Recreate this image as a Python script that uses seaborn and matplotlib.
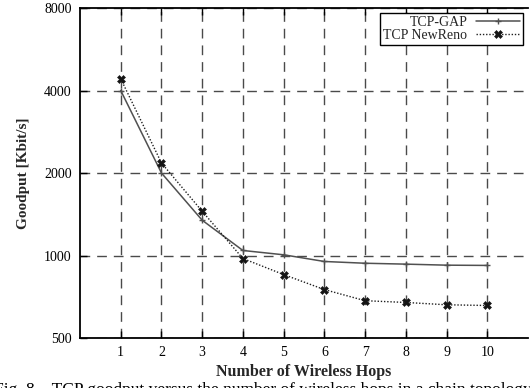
import matplotlib
matplotlib.use("Agg")
import matplotlib.pyplot as plt
import seaborn as sns
import pandas as pd
from matplotlib.ticker import FixedLocator, NullLocator, FixedFormatter

# Goodput (Kbit/s) versus number of wireless hops
hops = [1, 2, 3, 4, 5, 6, 7, 8, 9, 10]
tcp_gap = [4000, 2000, 1345, 1043, 1006, 951, 937, 930, 922, 920]
tcp_newreno = [4413, 2176, 1450, 975, 852, 751, 684, 674, 661, 657]

y_ticks = [500, 1000, 2000, 4000, 8000]
x_ticks = hops

sns.set_theme(style="white")
plt.rcParams["font.family"] = ["Liberation Serif", "DejaVu Serif"]

df = pd.DataFrame({
    "hops": hops * 2,
    "goodput": tcp_gap + tcp_newreno,
    "protocol": ["TCP-GAP"] * len(hops) + ["TCP NewReno"] * len(hops),
})

fig = plt.figure(figsize=(5.30, 3.88), dpi=100)
ax = fig.add_axes([80 / 530, 1 - 338 / 388, 448 / 530, 330 / 388])

sns.lineplot(data=df[df.protocol == "TCP-GAP"], x="hops", y="goodput", ax=ax,
             color="#505050", linewidth=1.1, linestyle="-", marker="+",
             markersize=5, markeredgewidth=1.0, markeredgecolor="#505050",
             label="TCP-GAP", zorder=4)
sns.lineplot(data=df[df.protocol == "TCP NewReno"], x="hops", y="goodput", ax=ax,
             color="#202020", linewidth=1.0, linestyle=(0, (1, 1.3)),
             marker="X", markersize=6, markeredgewidth=0.4,
             markerfacecolor="#151515", markeredgecolor="#151515",
             label="TCP NewReno", zorder=4)

ax.set_yscale("log")
ax.set_xlim(0, 11)
ax.set_ylim(500, 8000)
ax.yaxis.set_major_locator(FixedLocator(y_ticks))
ax.yaxis.set_major_formatter(FixedFormatter([str(v) for v in y_ticks]))
ax.yaxis.set_minor_locator(NullLocator())
ax.xaxis.set_major_locator(FixedLocator(x_ticks))
ax.xaxis.set_minor_locator(NullLocator())

ax.grid(True, which="major", color="#4a4a4a", linestyle=(0, (7, 5)), linewidth=1.0)
ax.set_axisbelow(True)

for side in ["left", "bottom", "top"]:
    ax.spines[side].set_visible(True)
    ax.spines[side].set_color("black")
    ax.spines[side].set_linewidth(1.3)
ax.spines["right"].set_visible(False)

ax.tick_params(axis="both", which="major", direction="in", length=5, width=1.0,
               color="black", labelsize=10, labelcolor="black")
ax.tick_params(axis="x", top=True, bottom=True, pad=6)
ax.tick_params(axis="y", left=True, right=False, pad=6)

ax.set_xlabel("Number of Wireless Hops", fontsize=11.5, fontweight="bold", labelpad=3)
ax.set_ylabel("Goodput [Kbit/s]", fontsize=11, fontweight="bold", labelpad=10)

leg = ax.legend(loc="upper right", markerfirst=False, frameon=True, fancybox=False,
                fontsize=10, handlelength=3.2, handletextpad=0.6,
                borderpad=0.22, labelspacing=0.0, borderaxespad=0.35)
leg.get_frame().set_edgecolor("black")
leg.get_frame().set_linewidth(1.0)
leg.get_frame().set_facecolor("white")
leg.get_frame().set_alpha(1.0)

# Figure caption sitting just below the plot
fig.text(-0.012, 1 - 381.5 / 388, "Fig. 8.   TCP goodput versus the number of wireless hops in a chain topology",
         fontsize=12.5, va="top", ha="left", color="black")

fig.savefig("out.png", dpi=100)
